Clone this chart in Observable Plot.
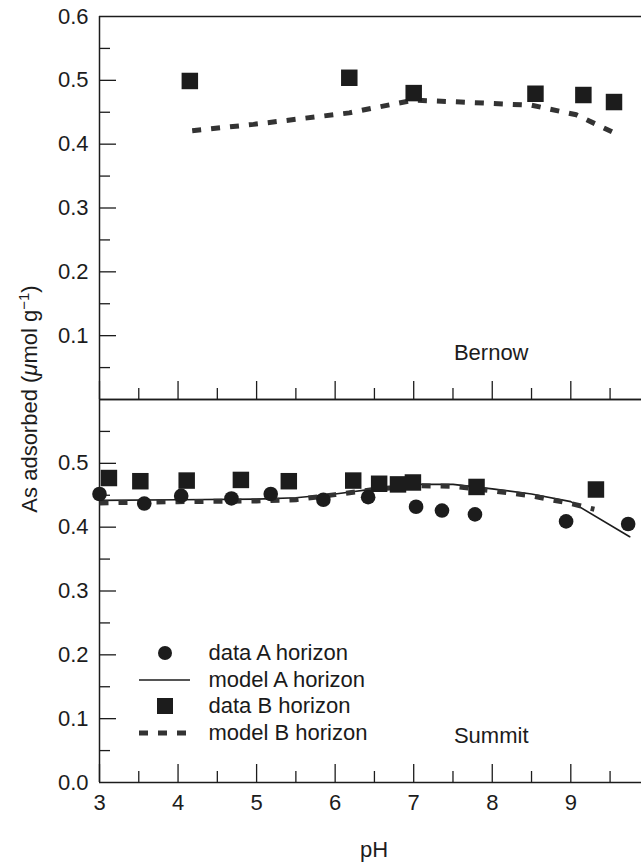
<!DOCTYPE html>
<html><head><meta charset="utf-8">
<script src="https://cdn.jsdelivr.net/npm/d3@7"></script>
<script src="https://cdn.jsdelivr.net/npm/@observablehq/plot@0.6"></script>
<style>
body{margin:0;background:#fff;}
#wrap{position:relative;width:641px;height:862px;font-family:"Liberation Sans",Arial,sans-serif;}
#legend{position:absolute;left:136px;top:640px;}
.row{display:flex;align-items:center;height:26.5px;font-size:22px;color:#1a1a1a;white-space:nowrap}
.row svg{width:58px;height:20px;margin-right:14.5px;flex:none}
</style></head><body><div id="wrap"></div>
<script>
// ---------- data ----------
const panels = ["Bernow", "Summit"];
const xMajor = [3, 4, 5, 6, 7, 8, 9];
const xMinor = [3.5, 4.5, 5.5, 6.5, 7.5, 8.5, 9.5];
const yMajor = [0.1, 0.2, 0.3, 0.4, 0.5];
const yMinor = [0.05, 0.15, 0.25, 0.35, 0.45, 0.55];
const yLabelsBernow = [0.1, 0.2, 0.3, 0.4, 0.5, 0.6];
const yLabelsSummit = [0.0, 0.1, 0.2, 0.3, 0.4, 0.5];

// Bernow
const bernowDataB_pH = [4.15, 6.18, 7.0, 8.55, 9.16, 9.55];
const bernowDataB = [0.499, 0.504, 0.480, 0.479, 0.477, 0.466];
const bernowModelB_pH = [4.18, 4.96, 6.18, 6.5, 7.0, 7.6, 8.5, 9.07, 9.53];
const bernowModelB = [0.421, 0.431, 0.449, 0.457, 0.469, 0.466, 0.461, 0.446, 0.419];

// Summit
const summitDataA_pH = [3.0, 3.57, 4.04, 4.68, 5.18, 5.85, 6.42, 7.03, 7.36, 7.78, 8.94, 9.73];
const summitDataA = [0.452, 0.437, 0.449, 0.445, 0.452, 0.443, 0.447, 0.432, 0.426, 0.420, 0.409, 0.405];
const summitDataB_pH = [3.12, 3.52, 4.11, 4.80, 5.41, 6.23, 6.56, 6.80, 6.99, 7.80, 9.32];
const summitDataB = [0.477, 0.472, 0.473, 0.474, 0.472, 0.473, 0.468, 0.467, 0.470, 0.463, 0.459];
const summitModelA_pH = [3.0, 4.0, 5.0, 5.5, 6.0, 6.5, 7.0, 7.5, 8.0, 8.5, 9.0, 9.75];
const summitModelA = [0.442, 0.443, 0.444, 0.446, 0.452, 0.460, 0.467, 0.467, 0.460, 0.452, 0.440, 0.385];
const summitModelB_pH = [3.0, 4.0, 5.0, 5.5, 6.0, 6.5, 7.0, 7.5, 8.0, 8.5, 9.0, 9.3];
const summitModelB = [0.438, 0.440, 0.441, 0.443, 0.451, 0.459, 0.465, 0.464, 0.457, 0.449, 0.437, 0.428];

const legendItems = ["data A horizon", "model A horizon", "data B horizon", "model B horizon"];

// ---------- tables ----------
const rows = (panel, xs, ys) => xs.map((x, i) => ({panel, pH: x, v: ys[i]}));
const dataA = rows("Summit", summitDataA_pH, summitDataA);
const dataB = [...rows("Bernow", bernowDataB_pH, bernowDataB), ...rows("Summit", summitDataB_pH, summitDataB)];
const modelA = rows("Summit", summitModelA_pH, summitModelA);
const modelB = [...rows("Bernow", bernowModelB_pH, bernowModelB), ...rows("Summit", summitModelB_pH, summitModelB)];
const yLabelRows = [...yLabelsBernow.map(v => ({panel: "Bernow", v})), ...yLabelsSummit.map(v => ({panel: "Summit", v}))];
const xLabelRows = xMajor.map(v => ({panel: "Summit", v}));
const panelRows = panels.map(p => ({panel: p}));

// ---------- layout ----------
const W = 641, H = 862, ML = 99, MR = 0, MT = 16, MB = 80;
const FW = W - ML - MR, FH = (H - MT - MB) / 2;
const ink = "#1c1c1c", dashInk = "#333333";
const fs = 22;
const dash = "9,10";

const chart = Plot.plot({
  width: W, height: H,
  marginLeft: ML, marginRight: MR, marginTop: MT, marginBottom: MB,
  style: {fontFamily: '"Liberation Sans", Arial, sans-serif', fontSize: fs + "px", color: ink, background: "#fff"},
  x: {domain: [3, 9.9], axis: null},
  y: {domain: [0, 0.6], axis: null},
  fy: {domain: panels, padding: 0, axis: null},
  marks: [
    Plot.tickY(yMinor, {y: d => d, insetRight: FW - 11, stroke: ink, strokeWidth: 1.3}),
    Plot.tickY(yMajor, {y: d => d, insetRight: FW - 17, stroke: ink, strokeWidth: 1.3}),
    Plot.tickX(xMinor, {x: d => d, insetTop: FH - 11, stroke: ink, strokeWidth: 1.3}),
    Plot.tickX(xMajor, {x: d => d, insetTop: FH - 18, stroke: ink, strokeWidth: 1.3}),
    Plot.ruleY([0, 0.6], {stroke: ink, strokeWidth: 1.5}),
    Plot.ruleX([3], {stroke: ink, strokeWidth: 1.5}),
    Plot.line(modelA, {fy: "panel", x: "pH", y: "v", stroke: ink, strokeWidth: 1.6}),
    Plot.line(modelB, {fy: "panel", x: "pH", y: "v", stroke: dashInk, strokeWidth: 5, strokeDasharray: dash, strokeLinecap: "butt", strokeLinejoin: "miter"}),
    Plot.dot(dataA, {fy: "panel", x: "pH", y: "v", r: 7.3, fill: ink, stroke: "none"}),
    Plot.dot(dataB, {fy: "panel", x: "pH", y: "v", symbol: "square", r: 9.3, fill: ink, stroke: "none"}),
    Plot.text(yLabelRows, {fy: "panel", y: "v", text: d => d.v.toFixed(1), frameAnchor: "left", textAnchor: "end", dx: -11, fill: ink, fontSize: fs}),
    Plot.text(xLabelRows, {fy: "panel", x: "v", text: d => String(d.v), frameAnchor: "bottom", dy: 27, fill: ink, fontSize: fs}),
    Plot.text(panelRows, {fy: "panel", text: "panel", frameAnchor: "bottom-right", dx: -113, dy: -40, fill: ink, fontSize: fs})
  ]
});

const wrap = document.getElementById("wrap");
wrap.appendChild(chart);

// axis titles
const svg = d3.select(chart);
const xr = chart.scale("x").range;
svg.append("text")
  .attr("x", (xr[0] + xr[1]) / 2 + 4).attr("y", 857)
  .attr("text-anchor", "middle").attr("fill", ink).attr("font-size", fs)
  .text("pH");
const yt = svg.append("text")
  .attr("transform", `translate(37,${MT + FH}) rotate(-90)`)
  .attr("text-anchor", "middle").attr("fill", ink).attr("font-size", fs);
yt.append("tspan").text("As adsorbed (");
yt.append("tspan").attr("font-style", "italic").text("μ");
yt.append("tspan").text("mol g");
yt.append("tspan").attr("dy", -8).attr("font-size", 15).text("−1");
yt.append("tspan").attr("dy", 8).text(")");

// legend
const legend = document.createElement("div");
legend.id = "legend";
legendItems.forEach((label, i) => {
  const row = document.createElement("div");
  row.className = "row";
  let sym = "";
  if (i === 0) sym = `<circle cx="29" cy="10" r="7" fill="${ink}"/>`;
  if (i === 1) sym = `<line x1="3" x2="54" y1="10" y2="10" stroke="${ink}" stroke-width="1.6"/>`;
  if (i === 2) sym = `<rect x="21" y="2" width="16" height="16" fill="${ink}"/>`;
  if (i === 3) sym = `<line x1="3" x2="56" y1="10" y2="10" stroke="${dashInk}" stroke-width="5" stroke-dasharray="${dash}"/>`;
  row.innerHTML = `<svg viewBox="0 0 58 20">${sym}</svg><span>${label}</span>`;
  legend.appendChild(row);
});
wrap.appendChild(legend);
</script>
</body></html>
